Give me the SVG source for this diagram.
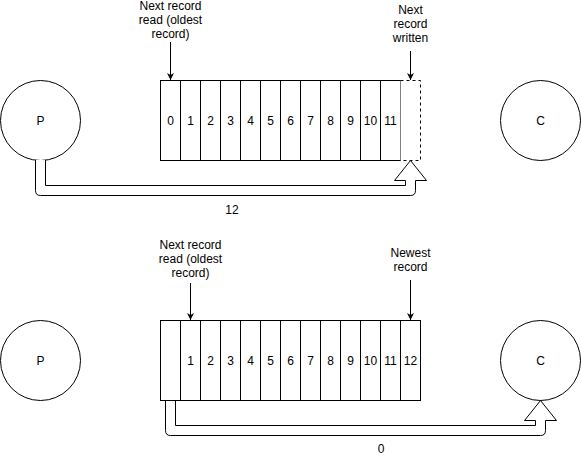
<svg xmlns="http://www.w3.org/2000/svg" width="581" height="461" viewBox="0 0 581 461">
<style>
.s{fill:#fff;stroke:#000;stroke-width:1}
.d{fill:#fff;stroke:#000;stroke-width:1;stroke-dasharray:3 3}
text{font-family:"Liberation Sans",Arial,sans-serif;font-size:12px;fill:#000;text-anchor:middle}
.ln{stroke:#000;stroke-width:1;fill:none;marker-end:url(#ah)}
</style>
<defs>
<marker id="ah" markerWidth="8" markerHeight="8" refX="7" refY="4" orient="auto" markerUnits="userSpaceOnUse">
<path d="M0,0.5 L7,4 L0,7.5 L2,4 Z" fill="#000"/>
</marker>
</defs>
<rect width="581" height="461" fill="#fff"/>
<g id="top-P"><circle class="s" cx="40.5" cy="120.5" r="40"/><text x="40.5" y="124.5">P</text></g>
<g id="top-C"><circle class="s" cx="540.5" cy="120.5" r="40"/><text x="540.5" y="124.5">C</text></g>
<g id="top-buffer">
<rect class="s" x="160.5" y="80.5" width="20" height="80"/><text x="170.5" y="124.5">0</text>
<rect class="s" x="180.5" y="80.5" width="20" height="80"/><text x="190.5" y="124.5">1</text>
<rect class="s" x="200.5" y="80.5" width="20" height="80"/><text x="210.5" y="124.5">2</text>
<rect class="s" x="220.5" y="80.5" width="20" height="80"/><text x="230.5" y="124.5">3</text>
<rect class="s" x="240.5" y="80.5" width="20" height="80"/><text x="250.5" y="124.5">4</text>
<rect class="s" x="260.5" y="80.5" width="20" height="80"/><text x="270.5" y="124.5">5</text>
<rect class="s" x="280.5" y="80.5" width="20" height="80"/><text x="290.5" y="124.5">6</text>
<rect class="s" x="300.5" y="80.5" width="20" height="80"/><text x="310.5" y="124.5">7</text>
<rect class="s" x="320.5" y="80.5" width="20" height="80"/><text x="330.5" y="124.5">8</text>
<rect class="s" x="340.5" y="80.5" width="20" height="80"/><text x="350.5" y="124.5">9</text>
<rect class="s" x="360.5" y="80.5" width="20" height="80"/><text x="370.5" y="124.5">10</text>
<rect class="s" x="380.5" y="80.5" width="20" height="80"/><text x="390.5" y="124.5">11</text>
<path class="d" d="M400.5,80.5 H420.5 V160.5 H400.5" fill="none"/>
</g>
<g id="top-labels">
<text x="170.5" y="10">Next record</text>
<text x="170.5" y="24">read (oldest</text>
<text x="170.5" y="38">record)</text>
<text x="410.5" y="14">Next</text>
<text x="410.5" y="28">record</text>
<text x="410.5" y="42">written</text>
<text x="232" y="214">12</text>
</g>
<g id="bottom-P"><circle class="s" cx="40.5" cy="360.5" r="40"/><text x="40.5" y="364.5">P</text></g>
<g id="bottom-C"><circle class="s" cx="540.5" cy="360.5" r="40"/><text x="540.5" y="364.5">C</text></g>
<g id="bottom-buffer">
<rect class="s" x="160.5" y="320.5" width="20" height="80"/>
<rect class="s" x="180.5" y="320.5" width="20" height="80"/><text x="190.5" y="364.5">1</text>
<rect class="s" x="200.5" y="320.5" width="20" height="80"/><text x="210.5" y="364.5">2</text>
<rect class="s" x="220.5" y="320.5" width="20" height="80"/><text x="230.5" y="364.5">3</text>
<rect class="s" x="240.5" y="320.5" width="20" height="80"/><text x="250.5" y="364.5">4</text>
<rect class="s" x="260.5" y="320.5" width="20" height="80"/><text x="270.5" y="364.5">5</text>
<rect class="s" x="280.5" y="320.5" width="20" height="80"/><text x="290.5" y="364.5">6</text>
<rect class="s" x="300.5" y="320.5" width="20" height="80"/><text x="310.5" y="364.5">7</text>
<rect class="s" x="320.5" y="320.5" width="20" height="80"/><text x="330.5" y="364.5">8</text>
<rect class="s" x="340.5" y="320.5" width="20" height="80"/><text x="350.5" y="364.5">9</text>
<rect class="s" x="360.5" y="320.5" width="20" height="80"/><text x="370.5" y="364.5">10</text>
<rect class="s" x="380.5" y="320.5" width="20" height="80"/><text x="390.5" y="364.5">11</text>
<rect class="s" x="400.5" y="320.5" width="20" height="80"/><text x="410.5" y="364.5">12</text>
</g>
<g id="bottom-labels">
<text x="190.5" y="249">Next record</text>
<text x="190.5" y="263">read (oldest</text>
<text x="190.5" y="277">record)</text>
<text x="410.5" y="257">Newest</text>
<text x="410.5" y="271">record</text>
<text x="381" y="453">0</text>
</g>
<g id="connectors">
<line class="ln" x1="170.5" y1="42" x2="170.5" y2="80"/>
<line class="ln" x1="410.5" y1="51" x2="410.5" y2="80"/>
<line class="ln" x1="190.5" y1="283" x2="190.5" y2="320"/>
<line class="ln" x1="410.5" y1="280" x2="410.5" y2="320"/>
<path class="s" d="M35.5,160 V190.5 Q35.5,195.5 40.5,195.5 H410.5 Q415.5,195.5 415.5,190.5 V180.5 H426.5 L410.5,160.5 L394.5,180.5 H405.5 V185.5 H45.5 V160"/>
<path class="s" d="M165.5,401 V430.5 Q165.5,435.5 170.5,435.5 H540.5 Q545.5,435.5 545.5,430.5 V420.5 H556.5 L540.5,400.5 L524.5,420.5 H535.5 V425.5 H175.5 V401"/>
</g>
</svg>
